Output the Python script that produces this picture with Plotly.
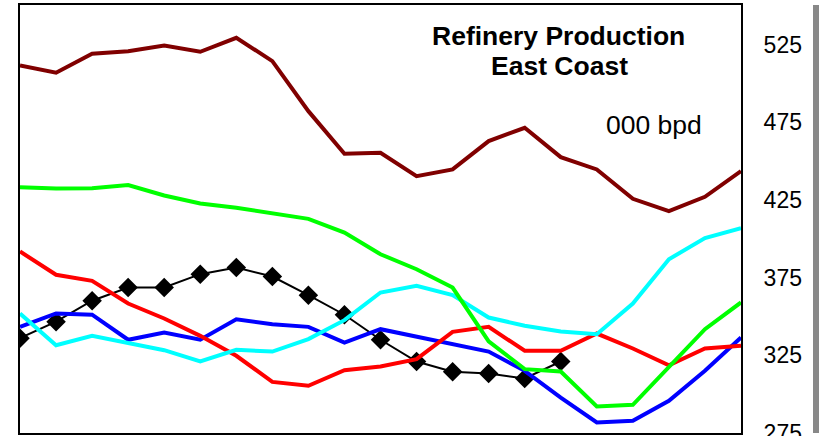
import plotly.graph_objects as go

months = list(range(21))

dark_red = [511.5, 506.8, 519.0, 520.7, 524.4, 520.3, 529.3, 514.3, 482.1, 454.7, 455.3,
            440.3, 444.6, 462.8, 471.4, 452.5, 444.6, 425.7, 417.7, 427.0, 443.5]
green = [433.2, 432.3, 432.5, 434.5, 427.8, 422.7, 419.9, 416.4, 412.8, 404.0, 390.0,
         380.4, 368.6, 333.9, 316.1, 314.6, 292.1, 293.1, 317.6, 341.8, 359.0]
red = [391.8, 376.8, 372.9, 358.3, 348.7, 337.5, 324.7, 307.9, 305.4, 315.4, 317.8,
       322.5, 340.1, 343.3, 327.9, 327.9, 339.0, 329.4, 318.6, 329.4, 331.1]
cyan = [351.9, 331.5, 337.5, 332.6, 328.3, 321.0, 328.5, 327.4, 335.4, 347.6, 365.4,
        369.7, 363.7, 349.3, 344.0, 340.3, 338.6, 358.3, 386.8, 400.4, 406.8]
blue = [343.3, 351.9, 351.1, 335.0, 339.7, 335.0, 348.2, 345.0, 343.3, 333.2, 341.8,
        337.1, 332.1, 327.4, 315.0, 297.8, 281.8, 282.9, 295.7, 315.0, 336.5]
black = [336.0, 346.6, 360.1, 368.6, 368.6, 377.2, 381.5, 375.7, 363.7, 351.1, 335.0,
         321.0, 314.4, 313.3, 310.1, 321.0]

y_ticks = [275, 325, 375, 425, 475, 525]

fig = go.Figure()
fig.add_trace(go.Scatter(x=months[:len(black)], y=black, mode="lines+markers",
                         line=dict(color="black", width=2),
                         marker=dict(symbol="diamond", size=15, color="black")))
fig.add_trace(go.Scatter(x=months, y=blue, mode="lines", line=dict(color="#0000FF", width=4)))
fig.add_trace(go.Scatter(x=months, y=red, mode="lines", line=dict(color="#FF0000", width=4)))
fig.add_trace(go.Scatter(x=months, y=cyan, mode="lines", line=dict(color="#00FFFF", width=4)))
fig.add_trace(go.Scatter(x=months, y=green, mode="lines", line=dict(color="#00FF00", width=4)))
fig.add_trace(go.Scatter(x=months, y=dark_red, mode="lines", line=dict(color="#800000", width=4)))

fig.update_layout(
    width=819, height=436,
    margin=dict(l=20, r=78, t=5, b=3, autoexpand=False),
    paper_bgcolor="white", plot_bgcolor="white",
    showlegend=False,
    font=dict(family="Liberation Sans, Arial, sans-serif", color="black"),
    xaxis=dict(range=[0, 20], showgrid=False, zeroline=False, showticklabels=False,
               showline=True, mirror=True, linecolor="black", linewidth=2, ticks=""),
    yaxis=dict(range=[275, 550.4], side="right", tickvals=y_ticks,
               ticktext=[str(v) for v in y_ticks], showgrid=False, zeroline=False,
               showline=True, mirror=True, linecolor="black", linewidth=2, ticks="",
               tickfont=dict(size=23, color="black"), ticklabelstandoff=16,
               ticklabeloverflow="allow"),
    shapes=[dict(type="rect", xref="paper", yref="paper", xsizemode="pixel",
                 xanchor=1, x0=72, x1=80, y0=0, y1=1,
                 fillcolor="#888888", line=dict(width=0), layer="above")],
    annotations=[
        dict(text="<b>Refinery Production</b>", xref="paper", yref="paper",
             x=(558 - 20) / 721, y=1 - (36 - 5) / 428, showarrow=False,
             font=dict(size=26.5), xanchor="center", yanchor="middle"),
        dict(text="<b>East Coast</b>", xref="paper", yref="paper",
             x=(559 - 20) / 721, y=1 - (66 - 5) / 428, showarrow=False,
             font=dict(size=26.5), xanchor="center", yanchor="middle"),
        dict(text="000 bpd", xref="paper", yref="paper",
             x=(653.5 - 20) / 721, y=1 - (125 - 5) / 428, showarrow=False,
             font=dict(size=26.5), xanchor="center", yanchor="middle"),
    ],
)

fig.write_html("out.html", config={"displayModeBar": False, "staticPlot": True},
               post_script="document.body.style.margin='0';document.body.style.overflow='hidden';")
